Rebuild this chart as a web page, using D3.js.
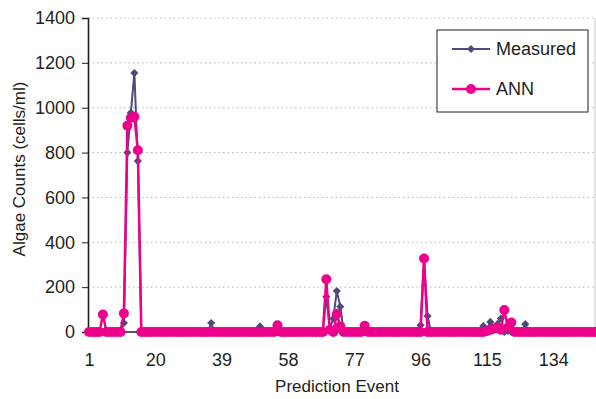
<!DOCTYPE html>
<html>
<head>
<meta charset="utf-8">
<script src="https://cdn.jsdelivr.net/npm/d3@7"></script>
<style>
  body { margin: 0; background: #fff; }
  svg text { font-family: "Liberation Sans", Arial, sans-serif; fill: #231f20; }
</style>
</head>
<body>
<svg class="chart" width="596" height="399"></svg>
<script>
// prediction events 1..147
const events = d3.range(1, 148);
const xTickLabels = [1, 20, 39, 58, 77, 96, 115, 134];
const yTickValues = [0, 200, 400, 600, 800, 1000, 1200, 1400];

const measured = [
  0, 0, 0, 0, 0, 0, 0, 0, 0, 0,
  40, 800, 978, 1155, 762, 0, 0, 0, 0, 0,
  0, 0, 0, 0, 0, 0, 0, 0, 0, 0,
  0, 0, 0, 0, 0, 40, 0, 0, 0, 0,
  0, 0, 0, 0, 0, 0, 0, 0, 0, 25,
  0, 0, 0, 0, 0, 0, 0, 0, 0, 0,
  0, 0, 0, 0, 0, 0, 0, 0, 157, 15,
  60, 183, 113, 0, 0, 0, 0, 0, 0, 0,
  0, 0, 0, 0, 0, 0, 0, 0, 0, 0,
  0, 0, 0, 0, 5, 30, 320, 71, 0, 0,
  0, 0, 0, 0, 0, 0, 0, 0, 0, 0,
  0, 0, 5, 27, 10, 45, 20, 35, 60, 0,
  5, 0, 0, 0, 0, 35, 0, 0, 0, 0,
  0, 0, 0, 0, 0, 0, 0, 0, 0, 0,
  0, 0, 0, 0, 0, 0, 0
];

const ann = [
  0, 0, 0, 0, 78, 0, 0, 0, 0, 0,
  83, 920, 955, 960, 810, 0, 0, 0, 0, 0,
  0, 0, 0, 0, 0, 0, 0, 0, 0, 0,
  0, 0, 0, 0, 0, 0, 0, 0, 0, 0,
  0, 0, 0, 0, 0, 0, 0, 0, 0, 0,
  0, 0, 0, 0, 30, 0, 0, 0, 0, 0,
  0, 0, 0, 0, 0, 0, 0, 0, 235, 10,
  0, 80, 25, 0, 0, 0, 0, 0, 0, 28,
  0, 0, 0, 0, 0, 0, 0, 0, 0, 0,
  0, 0, 0, 0, 0, 0, 328, 0, 0, 0,
  0, 0, 0, 0, 0, 0, 0, 0, 0, 0,
  0, 0, 0, 0, 5, 10, 15, 20, 10, 98,
  20, 42, 0, 0, 0, 0, 0, 0, 0, 0,
  0, 0, 0, 0, 0, 0, 0, 0, 0, 0,
  0, 0, 0, 0, 0, 0, 0
];

const seriesNames = ["Measured", "ANN"];
const colors = { Measured: "#4d4b7d", ANN: "#ec008c" };

const plotLeft = 88, plotRight = 595, plotTop = 18, plotBottom = 332;

let x = d3.scaleLinear()
  .domain([1, 147])
  .range([89, 89 + 146 * 3.49]);
let y = d3.scaleLinear()
  .domain([0, 1400])
  .range([plotBottom, plotTop]);

let svg = d3.select(".chart");

// grid lines (dotted)
svg.append("g")
  .selectAll("line")
  .data(yTickValues.filter(d => d > 0))
  .enter().append("line")
  .attr("x1", plotLeft)
  .attr("x2", plotRight)
  .attr("y1", d => y(d))
  .attr("y2", d => y(d))
  .style("stroke", "#b3b3b3")
  .style("stroke-width", 1)
  .style("stroke-dasharray", "1.5,3");

// right border of plot area
svg.append("line")
  .attr("x1", plotRight).attr("x2", plotRight)
  .attr("y1", plotTop).attr("y2", plotBottom)
  .style("stroke", "#c8c8c8")
  .style("stroke-width", 1);

// y axis
let yAxis = d3.axisLeft(y).tickValues(yTickValues).tickFormat(d3.format("d")).tickSize(6).tickPadding(7);
svg.append("g")
  .attr("transform", `translate(${plotLeft},0)`)
  .call(yAxis)
  .call(g => {
    g.select(".domain").attr("stroke", "#231f20").attr("stroke-width", 1.6);
    g.selectAll(".tick line").attr("stroke", "#231f20");
    g.selectAll(".tick text").style("font-size", "18px").attr("fill", "#231f20");
  });

// x axis
let xAxis = d3.axisBottom(x).tickValues(xTickLabels).tickFormat(d3.format("d")).tickSize(0).tickPadding(21);
svg.append("g")
  .attr("transform", `translate(0,${plotBottom})`)
  .call(xAxis)
  .call(g => {
    g.select(".domain").attr("d", `M${plotLeft},0H596`).attr("stroke", "#231f20").attr("stroke-width", 1.4);
    g.selectAll(".tick text").style("font-size", "18px").attr("fill", "#231f20");
  });

// axis titles
svg.append("text")
  .attr("transform", "translate(25,169) rotate(-90)")
  .attr("text-anchor", "middle")
  .style("font-size", "17px")
  .text("Algae Counts (cells/ml)");
svg.append("text")
  .attr("x", 337)
  .attr("y", 392)
  .attr("text-anchor", "middle")
  .style("font-size", "17px")
  .text("Prediction Event");

// series
let line = d3.line()
  .x((d, i) => x(events[i]))
  .y(d => y(d));

let diamond = d3.symbol().type(d3.symbolDiamond2).size(42);

// Measured first, ANN drawn on top
svg.append("path")
  .datum(measured)
  .attr("fill", "none")
  .attr("stroke", colors.Measured)
  .attr("stroke-width", 2)
  .attr("d", line);
svg.append("g")
  .selectAll("path")
  .data(measured)
  .enter().append("path")
  .attr("transform", (d, i) => `translate(${x(events[i])},${y(d)})`)
  .attr("d", diamond)
  .attr("fill", colors.Measured);

svg.append("path")
  .datum(ann)
  .attr("fill", "none")
  .attr("stroke", colors.ANN)
  .attr("stroke-width", 2.5)
  .attr("d", line);
svg.append("g")
  .selectAll("circle")
  .data(ann)
  .enter().append("circle")
  .attr("cx", (d, i) => x(events[i]))
  .attr("cy", d => y(d))
  .attr("r", 5)
  .attr("fill", colors.ANN);

// legend
let legend = svg.append("g").attr("transform", "translate(437,30)");
legend.append("rect")
  .attr("width", 151)
  .attr("height", 82)
  .attr("fill", "#fff")
  .style("stroke", "#231f20")
  .style("stroke-width", 1);
let item = legend.selectAll(".item")
  .data(seriesNames)
  .enter().append("g")
  .attr("transform", (d, i) => `translate(0,${19 + i * 40})`);
item.append("line")
  .attr("x1", 15).attr("x2", 53)
  .attr("stroke", d => colors[d])
  .attr("stroke-width", d => d === "ANN" ? 2.5 : 2);
item.filter(d => d === "Measured").append("path")
  .attr("transform", "translate(34,0)")
  .attr("d", diamond)
  .attr("fill", d => colors[d]);
item.filter(d => d === "ANN").append("circle")
  .attr("cx", 34)
  .attr("r", 5)
  .attr("fill", d => colors[d]);
item.append("text")
  .attr("x", 59)
  .attr("dy", "0.36em")
  .style("font-size", "18px")
  .text(d => d);
</script>
</body>
</html>
